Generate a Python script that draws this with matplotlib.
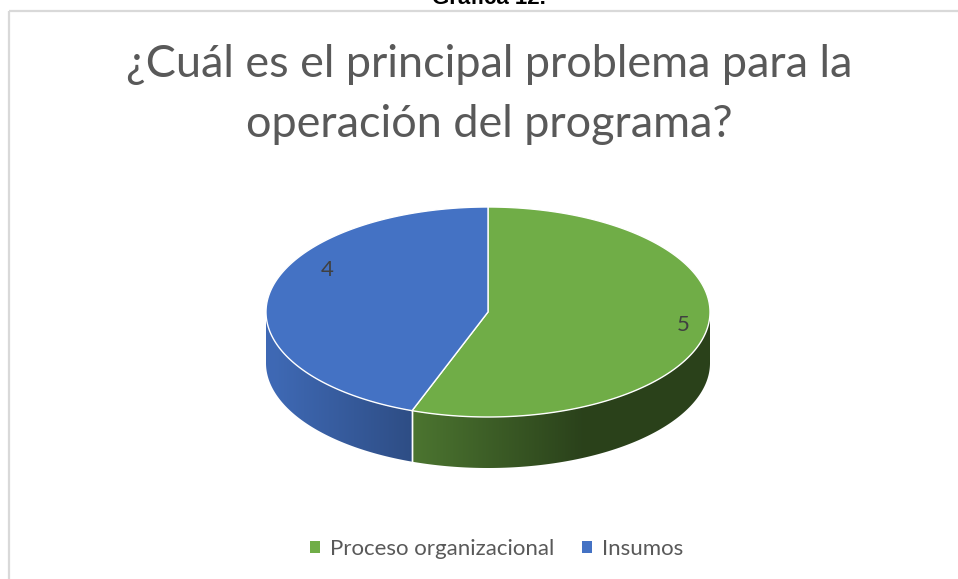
import numpy as np
import matplotlib
matplotlib.use('Agg')
import matplotlib.pyplot as plt
from matplotlib.patches import Polygon, Patch, Rectangle
from matplotlib.colors import to_rgb

# ---- data ----
categories = ['Proceso organizacional', 'Insumos']
values = [5, 4]
colors_top = ['#70AD47', '#4472C4']
title_lines = ['¿Cuál es el principal problema para la', 'operación del programa?']
caption = 'Gráfica 12.'

W, H = 958, 579
fig = plt.figure(figsize=(W / 100, H / 100), dpi=100)
ax = fig.add_axes([0, 0, 1, 1])
ax.set_xlim(0, W)
ax.set_ylim(H, 0)
ax.axis('off')

# chart frame
ax.add_patch(Rectangle((9, 11), W + 20, H + 20, fill=False, ec='#d9d9d9', lw=1.6))

# caption cut off at top
ax.text(489, 4, caption, ha='center', va='baseline', fontsize=16,
        fontweight='bold', family='Liberation Sans', color='black')

# title
ax.text(489, 77, title_lines[0], ha='center', va='baseline', fontsize=32.4,
        family='Lato', color='#595959')
ax.text(489, 137, title_lines[1], ha='center', va='baseline', fontsize=32.4,
        family='Lato', color='#595959')

# ---- 3D pie geometry ----
cx, cy, a, b, depth = 488, 312, 222, 105, 51
total = sum(values)
spans = []
start = -90.0
for v in values:
    ext = 360.0 * v / total
    spans.append((start, start + ext))
    start += ext


def pt(phi):
    r = np.deg2rad(phi)
    return cx + a * np.cos(r), cy + b * np.sin(r)


def shade(x):
    return np.clip(0.68 - 0.00175 * (x - 411), 0.38, 0.92)

# side walls (front half: phi in [0,180]) with horizontal gradient
xgrid = np.linspace(cx - a - 2, cx + a + 2, 600)
for (s, e), col in zip(spans, colors_top):
    base = np.array(to_rgb(col))
    for lo, hi in [(s, e), (s - 360, e - 360), (s + 360, e + 360)]:
        l0, h0 = max(lo, 0), min(hi, 180)
        if h0 <= l0:
            continue
        phis = np.linspace(l0, h0, 300)
        xs, ys = pt(phis)
        verts = list(zip(xs, ys)) + list(zip(xs[::-1], ys[::-1] + depth))
        clip = Polygon(verts, closed=True, fc='none', ec='none')
        ax.add_patch(clip)
        img = np.clip(base[None, None, :] * shade(xgrid)[None, :, None], 0, 1)
        img = np.repeat(img, 2, axis=0)
        im = ax.imshow(img, extent=(xgrid[0], xgrid[-1], cy + b + depth + 5, cy - 5),
                       aspect='auto', interpolation='bilinear', zorder=1)
        im.set_clip_path(clip)
        for p in (l0, h0):
            if 0 < p < 180:
                x, y = pt(p)
                ax.plot([x, x], [y, y + depth], color='white', lw=1.0, zorder=2)

ax.set_xlim(0, W)
ax.set_ylim(H, 0)

# tops
for (s, e), col in zip(spans, colors_top):
    phis = np.linspace(s, e, 300)
    xs, ys = pt(phis)
    poly = [(cx, cy)] + list(zip(xs, ys))
    ax.add_patch(Polygon(poly, closed=True, fc=col, ec='white', lw=1.0,
                         joinstyle='round', zorder=3))

# data labels
ax.text(327, 270, str(values[1]), ha='center', va='center', fontsize=16,
        family='Lato', color='#404040', zorder=4)
ax.text(683, 325, str(values[0]), ha='center', va='center', fontsize=16,
        family='Lato', color='#404040', zorder=4)

# legend
handles = [Patch(fc=c, ec='none') for c in colors_top]
leg = fig.legend(handles, categories, loc='center', bbox_to_anchor=(497 / W, 1 - 549 / H),
                 ncol=2, frameon=False, handlelength=0.45, handleheight=0.45,
                 handletextpad=0.45, columnspacing=1.25,
                 prop={'family': 'Lato', 'size': 16})
for t in leg.get_texts():
    t.set_color('#595959')

fig.savefig('out.png', dpi=100)
